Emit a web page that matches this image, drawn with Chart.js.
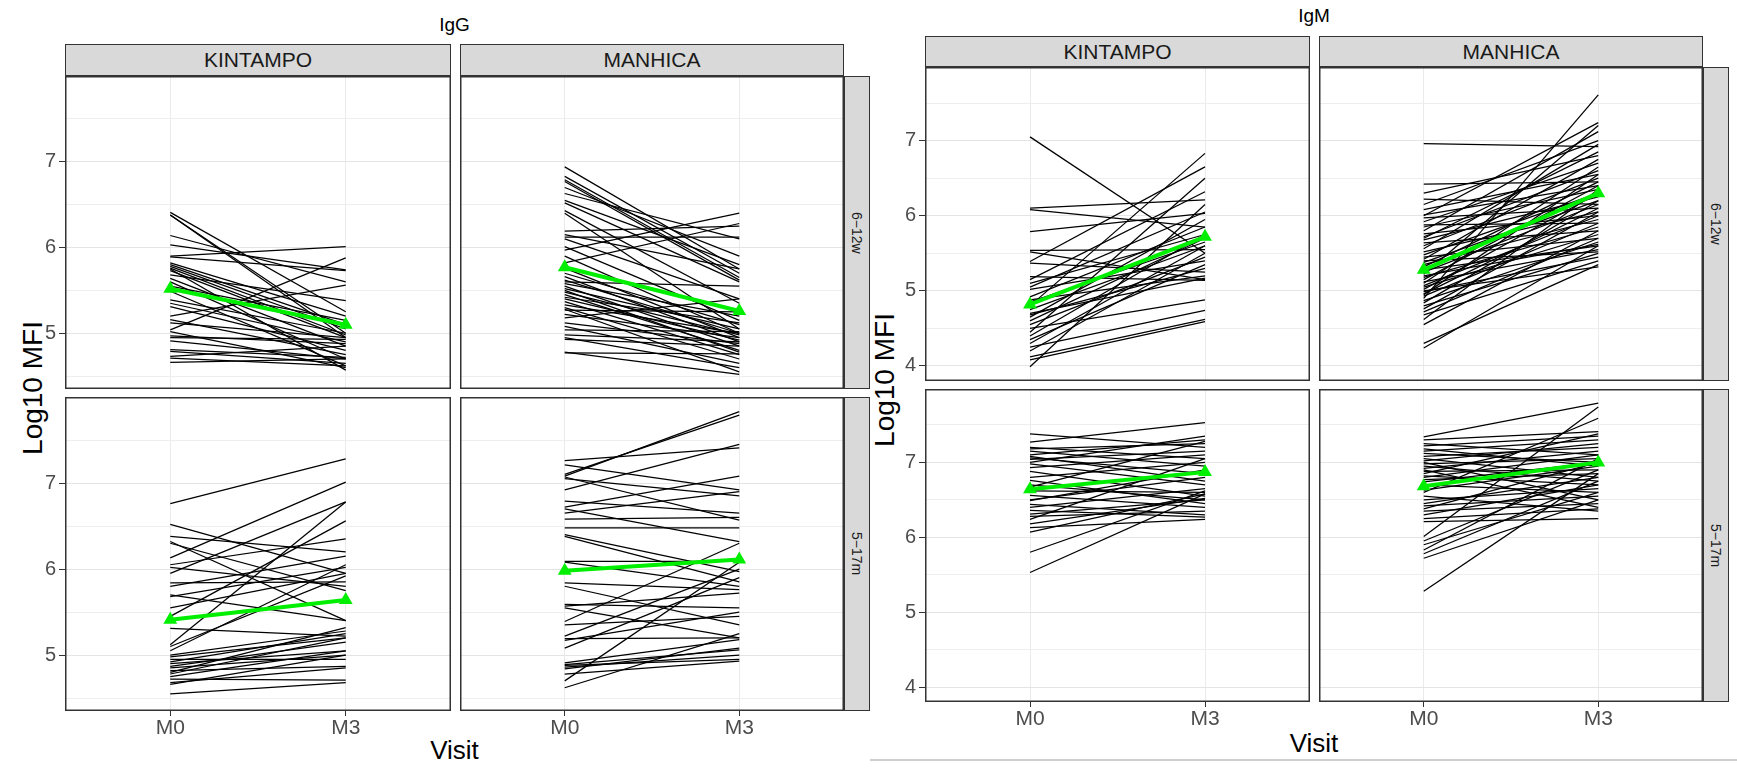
<!DOCTYPE html>
<html>
<head>
<meta charset="utf-8">
<script src="https://cdn.jsdelivr.net/npm/chart.js@4.4.1/dist/chart.umd.min.js"></script>
<style>
  body { margin: 0; background: #fff; width: 1737px; height: 770px; position: relative; overflow: hidden;
         font-family: 'Liberation Sans', Arial, sans-serif; }
  canvas { position: absolute; }
  .txt { position: absolute; white-space: nowrap; transform: translate(-50%, -50%); line-height: 1; }
  .strip { position: absolute; box-sizing: border-box; background: #d9d9d9; border: 1.5px solid #333;
           display: flex; align-items: center; justify-content: center; color: #1a1a1a; font-size: 21px; }
  .rstrip { writing-mode: vertical-rl; font-size: 14px; }
</style>
</head>
<body>
<script>
// ---- data ----
const visits = ['M0', 'M3'];
const sites = ['KINTAMPO', 'MANHICA'];
const ageGroups = ['6−12w', '5−17m'];
const iggTicks = [4.5, 5, 5.5, 6, 6.5, 7, 7.5];
const igmTicks = [4, 4.5, 5, 5.5, 6, 6.5, 7, 7.5];

// IgG, KINTAMPO, 6-12w
const iggKin6M0 = [6.41,6.38,6.38,6.14,6.03,5.90,5.89,5.82,5.80,5.78,5.76,5.73,5.68,5.64,5.60,5.55,5.49,5.39,5.35,5.31,5.20,5.16,5.12,5.04,5.02,4.97,4.95,4.91,4.81,4.79,4.73,4.71,4.66,5.75];
const iggKin6M3 = [5.25,5.00,4.95,5.60,5.74,6.01,5.73,5.20,5.10,5.05,4.98,4.95,5.38,4.85,4.70,5.15,4.62,5.00,4.90,4.80,5.56,4.75,4.95,5.88,4.60,4.88,4.93,4.70,4.72,4.65,4.85,4.62,4.70,4.57];
// IgG, MANHICA, 6-12w
const iggMan6M0 = [6.94,6.83,6.79,6.77,6.70,6.63,6.55,6.52,6.43,6.40,6.19,6.15,6.12,6.10,6.01,5.97,5.90,5.82,5.76,5.70,5.66,5.62,5.58,5.55,5.52,5.48,5.45,5.42,5.40,5.37,5.33,5.30,5.27,5.22,5.18,5.12,5.08,5.04,4.98,4.95,4.93,4.78,5.60,5.50,5.28,4.77];
const iggMan6M3 = [5.75,5.70,5.65,5.62,5.90,6.10,5.80,5.60,5.35,5.05,6.25,5.75,6.12,5.40,5.15,6.40,5.00,6.28,4.95,5.10,4.90,5.00,5.20,4.85,5.05,4.98,4.80,5.12,4.92,4.75,5.00,4.70,5.25,4.95,5.40,4.88,4.65,5.02,4.90,4.60,4.85,4.52,5.55,4.78,4.55,4.76];
// IgG, KINTAMPO, 5-17m
const iggKin5M0 = [6.76,6.52,6.38,6.32,6.30,6.13,6.05,6.02,5.95,5.84,5.80,5.70,5.68,5.55,5.45,5.31,5.12,5.05,5.00,4.98,4.95,4.92,4.90,4.87,4.85,4.82,4.78,4.75,4.72,4.68,4.66,4.55,4.80,5.10];
const iggKin5M3 = [7.28,5.95,6.20,5.40,5.75,7.01,6.35,5.80,6.78,5.85,6.15,5.40,6.02,5.95,6.56,5.22,6.78,6.05,5.28,5.20,4.95,5.25,5.05,5.15,5.00,4.87,5.20,5.05,4.71,4.85,5.00,4.68,5.32,5.92];
// IgG, MANHICA, 5-17m
const iggMan5M0 = [7.26,7.21,7.10,7.08,7.07,7.05,6.92,6.79,6.72,6.70,6.65,6.58,6.48,6.40,6.38,6.09,6.08,5.84,5.80,5.59,5.55,5.39,5.35,5.22,5.17,5.08,4.91,4.89,4.86,4.84,4.78,4.70,4.62,5.19,5.57,4.88];
const iggMan5M3 = [7.41,6.92,7.79,7.83,6.57,6.85,7.45,6.65,7.08,6.32,6.90,6.60,6.48,5.97,5.85,6.09,5.80,5.76,5.35,5.55,5.20,6.30,5.45,6.00,5.50,5.90,5.18,5.06,5.00,5.08,4.93,6.08,5.25,5.20,5.72,4.95];

// IgM, KINTAMPO, 6-12w
const igmKin6M0 = [7.05,6.10,6.08,5.79,5.54,5.52,5.39,5.37,5.19,5.15,5.05,5.02,4.92,4.85,4.80,4.75,4.70,4.65,4.60,4.55,4.50,4.45,4.40,4.35,4.30,4.25,4.20,4.12,4.08,3.99,4.88,4.68,5.10];
const igmKin6M3 = [5.50,6.21,5.85,6.03,5.55,5.15,6.65,5.25,5.14,6.32,6.05,5.40,5.85,5.65,6.83,5.60,5.17,5.95,5.70,5.45,4.88,6.50,5.75,5.35,5.60,4.74,5.50,4.62,4.59,6.15,5.20,5.30,5.75];
// IgM, MANHICA, 6-12w
const igmMan6M0 = [6.96,6.42,6.30,6.22,6.15,6.08,6.01,6.00,5.97,5.92,5.88,5.85,5.80,5.76,5.72,5.68,5.64,5.60,5.56,5.52,5.48,5.45,5.42,5.38,5.35,5.32,5.28,5.25,5.22,5.18,5.15,5.12,5.10,5.07,5.05,5.02,4.99,4.96,4.93,4.90,4.87,4.84,4.80,4.76,4.72,4.68,4.62,4.55,4.30,4.24,5.00,5.40,5.70,5.20,4.95];
const igmMan6M3 = [6.92,6.45,6.80,6.15,7.00,6.55,6.40,7.24,6.10,6.70,5.90,6.35,7.12,6.00,6.60,6.25,5.80,6.50,6.95,6.05,6.30,5.70,6.75,6.20,5.95,6.45,5.60,6.15,7.20,5.85,6.40,5.55,6.65,6.00,5.75,6.30,5.45,6.10,5.90,7.61,5.65,6.20,5.50,6.05,5.70,5.40,6.35,5.80,5.35,5.60,5.32,5.52,6.85,5.62,6.55];
// IgM, KINTAMPO, 5-17m
const igmKin5M0 = [7.38,7.27,7.20,7.18,7.15,7.10,7.06,7.04,7.00,6.98,6.93,6.88,6.80,6.76,6.67,6.62,6.56,6.49,6.44,6.40,6.36,6.31,6.28,6.24,6.18,6.13,6.07,5.80,5.53,6.50,6.70,7.08];
const igmKin5M3 = [7.20,7.53,7.05,7.25,6.95,7.30,6.85,7.15,7.35,6.70,7.10,6.55,7.00,6.45,7.28,6.60,6.40,6.90,6.30,6.65,6.27,6.50,6.35,7.05,6.52,6.24,6.58,6.62,6.58,6.80,6.50,6.75];
// IgM, MANHICA, 5-17m
const igmMan5M0 = [7.34,7.30,7.25,7.22,7.18,7.15,7.12,7.08,7.05,7.02,6.98,6.95,6.92,6.88,6.85,6.82,6.80,6.77,6.74,6.70,6.63,6.45,6.42,6.38,6.35,6.30,6.25,6.21,6.01,5.95,5.90,5.83,5.78,5.72,5.28,6.60,6.50,6.90,7.00,6.55];
const igmMan5M3 = [7.79,7.41,7.10,7.35,6.95,7.30,7.00,7.20,6.80,7.25,7.05,6.75,7.15,6.90,7.38,6.70,7.10,6.85,7.00,6.60,6.95,6.80,6.55,7.00,6.45,6.70,6.38,6.25,7.74,6.90,6.60,7.05,6.75,6.50,6.85,7.59,6.65,6.40,6.50,6.35];

// group means (green line), [M0, M3]
const iggKin6Mean = [5.52, 5.10];
const iggMan6Mean = [5.77, 5.26];
const iggKin5Mean = [5.41, 5.64];
const iggMan5Mean = [5.98, 6.11];
const igmKin6Mean = [4.82, 5.72];
const igmMan6Mean = [5.28, 6.30];
const igmKin5Mean = [6.64, 6.87];
const igmMan5Mean = [6.68, 7.00];

// ---- layout ----
const panels = [
  {
    title: 'IgG', titleY: 24, yTitleX: 33, yTitleY: 388, xTitleY: 750,
    cols: [[65, 451], [460, 844]], rows: [[76, 389], [397, 711]], stripTop: 44, rStrip: [844, 870],
    yMin: 4.35, yMax: 8.0, ticks: iggTicks,
    facets: [
      [{ m0: iggKin6M0, m3: iggKin6M3, mean: iggKin6Mean }, { m0: iggMan6M0, m3: iggMan6M3, mean: iggMan6Mean }],
      [{ m0: iggKin5M0, m3: iggKin5M3, mean: iggKin5Mean }, { m0: iggMan5M0, m3: iggMan5M3, mean: iggMan5Mean }]
    ]
  },
  {
    title: 'IgM', titleY: 15, yTitleX: 885, yTitleY: 380, xTitleY: 743,
    cols: [[925, 1310], [1319, 1703]], rows: [[67, 381], [389, 702]], stripTop: 36, rStrip: [1703, 1729],
    yMin: 3.8, yMax: 7.98, ticks: igmTicks,
    facets: [
      [{ m0: igmKin6M0, m3: igmKin6M3, mean: igmKin6Mean }, { m0: igmMan6M0, m3: igmMan6M3, mean: igmMan6Mean }],
      [{ m0: igmKin5M0, m3: igmKin5M3, mean: igmKin5Mean }, { m0: igmMan5M0, m3: igmMan5M3, mean: igmMan5Mean }]
    ]
  }
];

const panelBorder = {
  id: 'panelBorder',
  afterDraw(chart) {
    const { ctx, chartArea: a } = chart;
    ctx.save();
    ctx.strokeStyle = '#333';
    ctx.lineWidth = 1.5;
    ctx.strokeRect(a.left + 0.75, a.top + 0.75, a.width - 1.5, a.height - 1.5);
    ctx.restore();
  }
};

function addText(text, cx, cy, size, rotate, color) {
  const d = document.createElement('div');
  d.className = 'txt';
  d.textContent = text;
  d.style.left = cx + 'px';
  d.style.top = cy + 'px';
  d.style.fontSize = size + 'px';
  d.style.color = color || '#000';
  if (rotate) d.style.transform = 'translate(-50%, -50%) rotate(' + rotate + 'deg)';
  document.body.appendChild(d);
}

function addStrip(text, x0, y0, x1, y1, right) {
  const d = document.createElement('div');
  d.className = right ? 'strip rstrip' : 'strip';
  d.textContent = text;
  d.style.left = x0 + 'px';
  d.style.top = y0 + 'px';
  d.style.width = (x1 - x0) + 'px';
  d.style.height = (y1 - y0) + 'px';
  document.body.appendChild(d);
}

function makeFacet(p, r, c) {
  const f = p.facets[r][c];
  const showY = c === 0, showX = r === 1;
  const padL = showY ? 60 : 0, padB = showX ? 34 : 0;
  const [x0, x1] = p.cols[c], [y0, y1] = p.rows[r];

  const cv = document.createElement('canvas');
  cv.width = x1 - x0 + padL;
  cv.height = y1 - y0 + padB;
  cv.style.left = (x0 - padL) + 'px';
  cv.style.top = y0 + 'px';
  document.body.appendChild(cv);

  const datasets = f.m0.map((v, i) => ({
    data: [{ x: 0, y: v }, { x: 1, y: f.m3[i] }],
    borderColor: '#000', borderWidth: 1.25, pointRadius: 0, order: 1
  }));
  datasets.push({
    data: f.mean.map((v, i) => ({ x: i, y: v })),
    borderColor: '#00ee00', backgroundColor: '#00ee00', borderWidth: 4,
    pointStyle: 'triangle', pointRadius: 8, pointBorderWidth: 0, order: 0
  });

  new Chart(cv, {
    type: 'line',
    data: { datasets: datasets },
    plugins: [panelBorder],
    options: {
      responsive: false, animation: false, devicePixelRatio: 1, events: [],
      layout: { padding: 0, autoPadding: false },
      plugins: { legend: { display: false }, tooltip: { enabled: false } },
      scales: {
        x: {
          type: 'linear', min: -0.6, max: 1.6,
          afterBuildTicks: s => { s.ticks = visits.map((_, i) => ({ value: i })); },
          afterFit: s => { s.height = padB; s.paddingLeft = 0; s.paddingRight = 0; },
          ticks: { display: showX, padding: 0, color: '#4d4d4d', font: { size: 21, family: 'Liberation Sans' },
                   autoSkip: false, maxRotation: 0, callback: v => visits[v] },
          grid: { color: '#ebebeb', lineWidth: 1, drawTicks: showX, tickLength: 5, tickColor: '#333' },
          border: { display: false }
        },
        y: {
          min: p.yMin, max: p.yMax,
          afterBuildTicks: s => { s.ticks = p.ticks.map(v => ({ value: v })); },
          afterFit: s => { s.width = padL; s.paddingTop = 0; s.paddingBottom = 0; },
          ticks: { display: showY, padding: 3, color: '#4d4d4d', font: { size: 20, family: 'Liberation Sans' },
                   callback: v => Number.isInteger(v) ? String(v) : '' },
          grid: {
            color: ctx => Number.isInteger(ctx.tick.value) ? '#e4e4e4' : '#eeeeee',
            lineWidth: 1, drawTicks: showY, tickLength: 6,
            tickColor: ctx => Number.isInteger(ctx.tick.value) ? '#333' : 'rgba(0,0,0,0)'
          },
          border: { display: false }
        }
      }
    }
  });
}

panels.forEach(p => {
  const cx = (p.cols[0][0] + p.cols[1][1]) / 2;
  addText(p.title, cx, p.titleY, 19, 0, '#000');
  addText('Log10 MFI', p.yTitleX, p.yTitleY, 28, -90, '#000');
  addText('Visit', cx, p.xTitleY, 26, 0, '#000');
  sites.forEach((s, c) => addStrip(s, p.cols[c][0], p.stripTop, p.cols[c][1], p.rows[0][0], false));
  ageGroups.forEach((g, r) => addStrip(g, p.rStrip[0], p.rows[r][0], p.rStrip[1], p.rows[r][1], true));
  for (let r = 0; r < 2; r++) {
    for (let c = 0; c < 2; c++) makeFacet(p, r, c);
  }
});

// edge of the IgM image at the bottom
const edge = document.createElement('div');
edge.style.cssText = 'position:absolute;left:870px;top:759px;width:867px;height:2px;background:#cfcfcf;';
document.body.appendChild(edge);
</script>
</body>
</html>
